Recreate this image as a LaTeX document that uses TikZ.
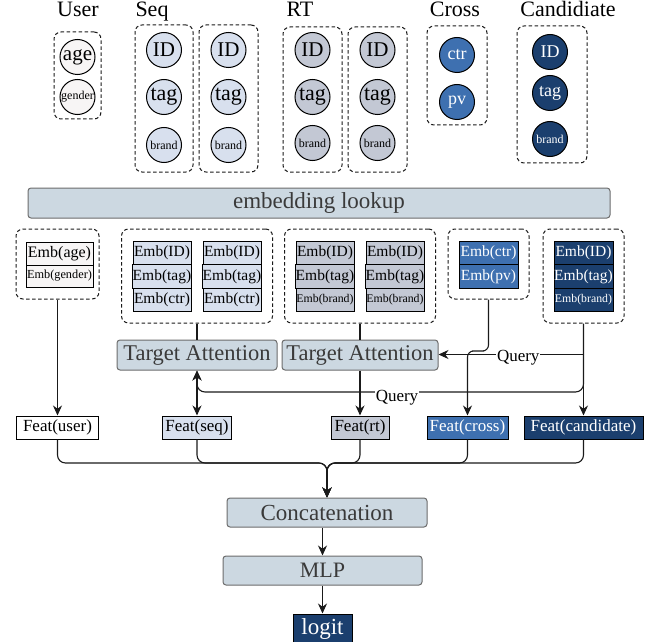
\documentclass[tikz,border=0pt]{standalone}
\usepackage{fontspec}
\setmainfont{Liberation Serif}
\usetikzlibrary{arrows.meta}
\definecolor{usercol}{HTML}{F7F5F5}
\definecolor{seqcol}{HTML}{D8E0EE}
\definecolor{rtcol}{HTML}{C3C8D4}
\definecolor{crosscol}{HTML}{3E70B0}
\definecolor{candcol}{HTML}{1B3F6E}
\definecolor{boxcol}{HTML}{CCD8E1}
\definecolor{txtgrey}{HTML}{3A3A3A}
\definecolor{linecol}{HTML}{1A1A1A}
\newcommand{\fs}[1]{\fontsize{#1}{#1}\selectfont}
\tikzset{
  title/.style={anchor=base, font=\fs{22}},
  dashbox/.style={draw=linecol, dash pattern=on 3.5pt off 2.5pt, line width=1pt, rounded corners=7pt, inner sep=0pt},
  ball/.style={circle, draw=black, line width=1pt, minimum size=35pt, inner sep=0pt},
  cell/.style={draw=black, line width=1pt, minimum width=58pt, minimum height=23.5pt, inner sep=0pt, font=\fs{15.5}},
  greybox/.style={draw=gray!85!black, line width=1pt, fill=boxcol, rounded corners=3pt, text=txtgrey, inner sep=0pt},
  featbox/.style={draw=black, line width=1pt, minimum height=23pt, inner sep=0pt, font=\fs{17}},
  conn/.style={draw=linecol, line width=1.1pt},
  arr/.style={conn, -{Stealth[length=10pt,width=9pt]}},
  dblarr/.style={conn, {Stealth[length=10pt,width=9pt]}-{Stealth[length=10pt,width=9pt]}},
  qlabel/.style={fill=white, inner sep=1pt, font=\fs{17}},
}
\begin{document}
\begin{tikzpicture}[x=1pt,y=-1pt]
\useasboundingbox (0,0) rectangle (657,642);

% titles
\node[title] (tUser) at (78,17) {User};
\node[title] (tSeq) at (152,17) {Seq};
\node[title] (tRT) at (300,17) {RT};
\node[title] (tCross) at (455,17) {Cross};
\node[title] (tCand) at (568,17) {Candidiate};

% input dashed groups
\node[dashbox, minimum width=47pt, minimum height=87pt] (gU) at (77.5,75.5) {};
\node[dashbox, minimum width=58pt, minimum height=147pt] (gS1) at (164,98.5) {};
\node[dashbox, minimum width=59pt, minimum height=147pt] (gS2) at (228.5,98.5) {};
\node[dashbox, minimum width=59pt, minimum height=145pt] (gR1) at (312.5,99.5) {};
\node[dashbox, minimum width=59pt, minimum height=145pt] (gR2) at (377.5,99.5) {};
\node[dashbox, minimum width=60pt, minimum height=99pt] (gX) at (457,75.5) {};
\node[dashbox, minimum width=70pt, minimum height=137pt] (gC) at (552,94.5) {};

% circles
\node[ball, fill=usercol, font=\fs{21}] (uAge) at (77.5,57) {age};
\node[ball, fill=usercol, font=\fs{12}] (uGender) at (77.5,97) {gender};
\foreach \nm/\cx in {s1/164, s2/228.5} {
  \node[ball, fill=seqcol, font=\fs{21}] (\nm ID) at (\cx,50) {ID};
  \node[ball, fill=seqcol, font=\fs{22}] (\nm tag) at (\cx,97) {tag};
  \node[ball, fill=seqcol, font=\fs{12}] (\nm brand) at (\cx,145) {brand};
}
\foreach \nm/\cx in {r1/312.5, r2/377.5} {
  \node[ball, fill=rtcol, font=\fs{21}] (\nm ID) at (\cx,50) {ID};
  \node[ball, fill=rtcol, font=\fs{22}] (\nm tag) at (\cx,97) {tag};
  \node[ball, fill=rtcol, font=\fs{12}] (\nm brand) at (\cx,143) {brand};
}
\node[ball, fill=crosscol, text=white, font=\fs{18}] (xCtr) at (457,55) {ctr};
\node[ball, fill=crosscol, text=white, font=\fs{18}] (xPv) at (457,102) {pv};
\node[ball, fill=candcol, text=white, font=\fs{18}] (cID) at (550,52) {ID};
\node[ball, fill=candcol, text=white, font=\fs{18}] (cTag) at (550,93) {tag};
\node[ball, fill=candcol, text=white, font=\fs{12}] (cBrand) at (550,139) {brand};

% embedding lookup
\node[greybox, minimum width=582pt, minimum height=30pt, font=\fs{23}] (emb) at (319,203) {embedding lookup};

% embedding groups
\node[dashbox, minimum width=83pt, minimum height=70pt] (eU) at (57.5,264) {};
\node[dashbox, minimum width=151pt, minimum height=94pt] (eS) at (197,276) {};
\node[dashbox, minimum width=151pt, minimum height=94pt] (eR) at (360,276) {};
\node[dashbox, minimum width=81pt, minimum height=70pt] (eX) at (488.5,264) {};
\node[dashbox, minimum width=81pt, minimum height=94pt] (eC) at (583.5,276) {};

\node[cell, fill=usercol, minimum width=67pt, minimum height=23pt, font=\fs{16}] (euAge) at (59.5,253.5) {Emb(age)};
\node[cell, fill=usercol, minimum width=67pt, minimum height=22pt, font=\fs{12.3}] (euGender) at (59.5,276) {Emb(gender)};

\foreach \nm/\cx in {es1/162, es2/232} {
  \node[cell, fill=seqcol] (\nm ID) at (\cx,253) {Emb(ID)};
  \node[cell, fill=seqcol] (\nm tag) at (\cx,276.5) {Emb(tag)};
  \node[cell, fill=seqcol] (\nm ctr) at (\cx,300) {Emb(ctr)};
}
\foreach \nm/\cx in {er1/325, er2/395} {
  \node[cell, fill=rtcol] (\nm ID) at (\cx,253) {Emb(ID)};
  \node[cell, fill=rtcol] (\nm tag) at (\cx,276.5) {Emb(tag)};
  \node[cell, fill=rtcol, font=\fs{11.8}] (\nm brand) at (\cx,300) {Emb(brand)};
}
\node[cell, fill=crosscol, text=white, minimum width=59pt] (exCtr) at (488.5,253) {Emb(ctr)};
\node[cell, fill=crosscol, text=white, minimum width=59pt] (exPv) at (488.5,276.5) {Emb(pv)};
\node[cell, fill=candcol, text=white, minimum width=59pt] (ecID) at (583.5,253) {Emb(ID)};
\node[cell, fill=candcol, text=white, minimum width=59pt] (ecTag) at (583.5,276.5) {Emb(tag)};
\node[cell, fill=candcol, text=white, minimum width=59pt, font=\fs{11.8}] (ecBrand) at (583.5,300) {Emb(brand)};

% target attention
\node[greybox, minimum width=160pt, minimum height=30pt, font=\fs{22.5}] (ta1) at (197,355) {Target Attention};
\node[greybox, minimum width=156pt, minimum height=30pt, font=\fs{22.5}] (ta2) at (360,355) {Target Attention};

% feature boxes
\node[featbox, fill=white, minimum width=82pt] (fU) at (57.5,427.5) {Feat(user)};
\node[featbox, fill=seqcol, minimum width=69pt] (fS) at (197,427.5) {Feat(seq)};
\node[featbox, fill=rtcol, minimum width=58pt] (fR) at (360,427.5) {Feat(rt)};
\node[featbox, fill=crosscol, text=white, minimum width=81pt] (fX) at (467.5,427.5) {Feat(cross)};
\node[featbox, fill=candcol, text=white, minimum width=119pt] (fC) at (583.5,427.5) {Feat(candidate)};

% bottom
\node[greybox, minimum width=200pt, minimum height=29pt, font=\fs{23}] (concat) at (327,512.5) {Concatenation};
\node[greybox, minimum width=199pt, minimum height=29pt, font=\fs{22}] (mlp) at (322.5,570.5) {MLP};
\node[draw=black, line width=1pt, fill=candcol, text=white, minimum width=59pt, minimum height=30pt, inner sep=0pt, font=\fs{23}] (logit) at (322.5,629) {logit};

% coordinates
\coordinate (jog) at (478,351);
\coordinate (q1) at (583.5,354.5);
\coordinate (q2) at (400,392);
\coordinate (m) at (327,463);

% connectors
\draw[arr] (eU.south) -- (fU.north);
\draw[conn] (eS.south) -- (ta1.north);
\draw[conn] (eR.south) -- (ta2.north);
\draw[arr] (ta2.south) -- (fR.north);
\draw[dblarr] (ta1.south) -- (fS.north);
\draw[arr, rounded corners=6pt] (eX.south) |- (jog) -| (fX.north);
\draw[arr] (eC.south) -- (fC.north);
\draw[arr] (q1) -- (ta2.east |- q1) node[qlabel, pos=0.45, yshift=-3pt] (ql1) {Query};
\draw[arr, rounded corners=8pt] (eC.south) |- (q2) -| (ta1.south);
\node[qlabel] (ql2) at (397,398) {Query};

\foreach \f in {fU,fS,fR,fX,fC} {
  \draw[arr, rounded corners=8pt] (\f.south) |- (m) -- (concat.north);
}
\draw[arr] (mlp.north |- concat.south) -- (mlp.north);
\draw[arr] (mlp.south) -- (logit.north);
\end{tikzpicture}
\end{document}
